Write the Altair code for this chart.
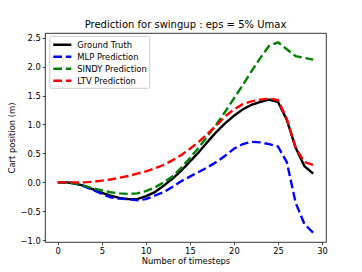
import altair as alt
import pandas as pd

steps = list(range(30))
ground_truth = [0.0, 0.0, -0.02, -0.06, -0.12, -0.18, -0.23, -0.27, -0.29, -0.29,
                -0.24, -0.17, -0.06, 0.06, 0.2, 0.36, 0.52, 0.7, 0.87, 1.02,
                1.15, 1.26, 1.34, 1.39, 1.43, 1.39, 1.08, 0.6, 0.28, 0.15]
mlp = [0.0, 0.0, -0.02, -0.07, -0.13, -0.2, -0.26, -0.28, -0.29, -0.31,
       -0.29, -0.23, -0.17, -0.08, 0.02, 0.1, 0.18, 0.26, 0.35, 0.46,
       0.58, 0.66, 0.70, 0.69, 0.66, 0.62, 0.35, -0.35, -0.72, -0.87]
sindy = [0.0, 0.0, -0.02, -0.06, -0.1, -0.14, -0.17, -0.19, -0.2, -0.19,
         -0.15, -0.09, 0.0, 0.1, 0.25, 0.42, 0.6, 0.8, 1.0, 1.22,
         1.45, 1.68, 1.92, 2.15, 2.36, 2.42, 2.3, 2.18, 2.15, 2.12]
ltv = [0.0, 0.0, 0.0, 0.0, 0.01, 0.03, 0.05, 0.08, 0.11, 0.15,
       0.19, 0.24, 0.3, 0.38, 0.47, 0.58, 0.7, 0.84, 0.98, 1.14,
       1.26, 1.35, 1.4, 1.43, 1.45, 1.42, 1.1, 0.6, 0.35, 0.3]

series_names = ["Ground Truth", "MLP Prediction", "SINDY Prediction", "LTV Prediction"]
series_values = [ground_truth, mlp, sindy, ltv]
colors = ["#000000", "#0000ff", "#008000", "#ff0000"]
dashes = [[1, 0], [8.7, 3.8], [8.7, 3.8], [8.7, 3.8]]

rows = []
for order, (name, vals) in enumerate(zip(series_names, series_values)):
    for s, v in zip(steps, vals):
        rows.append({"step": s, "value": v, "series": name, "order": order})
df = pd.DataFrame(rows)

FONT = "DejaVu Sans"


def make_legend():
    return alt.Legend(title=None, orient="none", legendX=4.3, legendY=2.8,
                      symbolType="M-1.64,0H1.64", symbolSize=121,
                      symbolStrokeWidth=2.4, symbolOffset=4,
                      labelFont=FONT, labelFontSize=8.4, labelOffset=8,
                      labelColor="#000000",
                      fillColor="white", strokeColor="#cccccc",
                      cornerRadius=2, padding=2, rowPadding=0)


chart = alt.Chart(df).mark_line(strokeWidth=2.4).encode(
    x=alt.X("step:Q",
            scale=alt.Scale(domain=[-1.45, 30.45], nice=False, zero=False),
            axis=alt.Axis(values=[0, 5, 10, 15, 20, 25, 30], format="d",
                          title="Number of timesteps")),
    y=alt.Y("value:Q",
            scale=alt.Scale(domain=[-1.03, 2.58], nice=False, zero=False),
            axis=alt.Axis(values=[-1.0, -0.5, 0.0, 0.5, 1.0, 1.5, 2.0, 2.5], format=".1f",
                          title="Cart position (m)")),
    color=alt.Color("series:N",
                    scale=alt.Scale(domain=series_names, range=colors),
                    legend=make_legend()),
    strokeDash=alt.StrokeDash("series:N",
                              scale=alt.Scale(domain=series_names, range=dashes),
                              legend=make_legend()),
    order=alt.Order("order:Q"),
).properties(
    width=281,
    height=209,
    title=alt.TitleParams("Prediction for swingup : eps = 5% Umax",
                          font=FONT, fontSize=10, fontWeight="normal",
                          color="#000000", anchor="middle", offset=3),
    autosize=alt.AutoSizeParams(type="none"),
    padding={"left": 37, "top": 25, "right": 20, "bottom": 23},
).configure_view(
    stroke="#000000", strokeWidth=0.8
).configure_axis(
    grid=False, domain=False,
    labelFont=FONT, labelFontSize=8.4, labelColor="#000000",
    titleFont=FONT, titleFontSize=8.4, titleColor="#000000", titleFontWeight="normal",
    tickColor="#000000", tickSize=2.75, tickWidth=0.7, labelPadding=2,
).configure_axisX(titlePadding=1).configure_axisY(titlePadding=3)

chart.save("out.html", embed_options={"renderer": "svg", "actions": False})
